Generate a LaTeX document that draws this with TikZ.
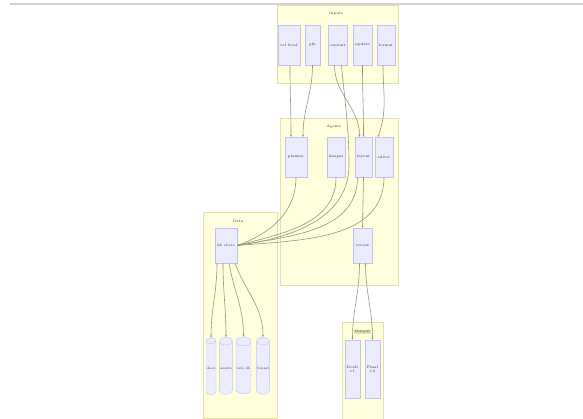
\documentclass[tikz,border=0pt]{standalone}
\usepackage{tikz}
\usetikzlibrary{shapes.geometric, arrows.meta, positioning}
\definecolor{cCluster}{RGB}{255,255,222}
\definecolor{cClusterLine}{RGB}{226,226,168}
\definecolor{cNode}{RGB}{236,236,255}
\definecolor{cNodeLine}{RGB}{200,192,236}
\definecolor{cEdge}{RGB}{150,150,120}
\definecolor{cRule}{RGB}{212,212,212}
\tikzset{
	cluster/.style={rectangle, anchor=north west, inner sep=0pt, draw=cClusterLine, fill=cCluster, line width=0.6pt},
	tag/.style={font=\fontsize{3.6}{4}\selectfont, text=black!80, inner sep=0.6pt},
	svcbox/.style={rectangle, minimum height=40pt, inner sep=0.5pt, align=center, draw=cNodeLine, fill=cNode, font=\fontsize{3.6}{4}\selectfont, text=black!85},
	store/.style={cylinder, shape border rotate=90, aspect=0.6, minimum height=57pt, inner sep=0.5pt, draw=cNodeLine, fill=cNode, font=\fontsize{3.4}{4}\selectfont, text=black!85},
	link/.style={-{Stealth[length=2.2pt, width=2pt]}, draw=cEdge, line width=0.6pt},
}
\begin{document}
\begin{tikzpicture}[x=1pt, y=1pt]
	\useasboundingbox (0,0) rectangle (583,-419);
	\draw[cRule, line width=1.2pt] (10,-4) -- (583,-4);
	% groups
	\node[cluster, minimum width=121pt, minimum height=78pt] (inputs) at (277,-5) {};
	\node[cluster, minimum width=118pt, minimum height=167pt] (agents) at (280,-118) {};
	\node[cluster, minimum width=74pt, minimum height=206pt] (data) at (203,-212) {};
	\node[cluster, minimum width=41pt, minimum height=98pt] (output) at (342,-322) {};
	\node[tag] at (336,-14) {Inputs};
	\node[tag] at (334,-127) {Agents};
	\node[tag] at (238,-221) {Data};
	\node[tag, fill=cClusterLine] at (362.5,-332) {Output};
	% input nodes
	\node[svcbox, minimum width=22pt] (brief) at (289,-45) {ref brief};
	\node[svcbox, minimum width=15pt] (gfx) at (312.5,-45) {gfx};
	\node[svcbox, minimum width=19pt] (content) at (337.5,-45) {content};
	\node[svcbox, minimum width=19pt] (update) at (362.5,-45) {update};
	\node[svcbox, minimum width=18pt] (format) at (386,-45) {format};
	% agent nodes
	\node[svcbox, minimum width=22pt] (planner) at (296,-157) {planner};
	\node[svcbox, minimum width=18pt] (images) at (336,-157) {images};
	\node[svcbox, minimum width=17pt] (layout) at (363.5,-157) {layout};
	\node[svcbox, minimum width=18pt] (editor) at (384,-157) {editor};
	\node[svcbox, minimum width=19pt, minimum height=35pt] (review) at (362.5,-245.5) {review};
	% data nodes
	\node[svcbox, minimum width=22pt, minimum height=35pt] (kb) at (226,-245.5) {kb store};
	\node[store, minimum width=9pt] (docs) at (211,-368.5) {docs};
	\node[store, minimum width=9pt] (assets) at (226,-368.5) {assets};
	\node[store, minimum width=13pt] (refs) at (243.5,-368.5) {refs db};
	\node[store, minimum width=10pt] (brand) at (263,-368.5) {brand};
	% output nodes
	\node[svcbox, minimum width=15pt, minimum height=58pt] (draft) at (352.5,-369) {Draft\\v1};
	\node[svcbox, minimum width=15pt, minimum height=58pt] (final) at (372.5,-369) {Final\\v2};
	% edges
	\coordinate (bend) at (349,-165);
	\draw[link] ([xshift=1pt]brief.south) to[out=-90,in=90] ([xshift=-5pt]planner.north);
	\draw[link] (gfx.south) to[out=-90,in=90] ([xshift=7pt]planner.north);
	\draw[link] ([xshift=-3pt]content.south) to[out=-90,in=90] ([xshift=-4pt]layout.north);
	\draw[link] ([xshift=4pt]content.south) to[out=-85,in=90] (bend) to[out=-90,in=8] (kb.east);
	\draw[link] (update.south) to[out=-90,in=90] (layout.north);
	\draw[link] ([xshift=-3pt]format.south) to[out=-90,in=70] ([xshift=-6pt]editor.north);
	\draw[link] (planner.south) to[out=-90,in=20] (kb.east);
	\draw[link] (images.south) to[out=-90,in=15] (kb.east);
	\draw[link] ([xshift=-6pt]layout.south) to[out=-90,in=10] (kb.east);
	\draw[link] (editor.south) to[out=-90,in=5] (kb.east);
	\draw[link] (layout.south) -- (review.north);
	\draw[link] ([xshift=-9pt]kb.south) to[out=-90,in=90] (docs.north);
	\draw[link] ([xshift=-3pt]kb.south) to[out=-90,in=90] (assets.north);
	\draw[link] ([xshift=3pt]kb.south) to[out=-80,in=90] (refs.north);
	\draw[link] ([xshift=9pt]kb.south) to[out=-70,in=90] (brand.north);
	\draw[link] ([xshift=-3pt]review.south) to[out=-90,in=90] (draft.north);
	\draw[link] ([xshift=3pt]review.south) to[out=-90,in=90] (final.north);
\end{tikzpicture}
\end{document}
